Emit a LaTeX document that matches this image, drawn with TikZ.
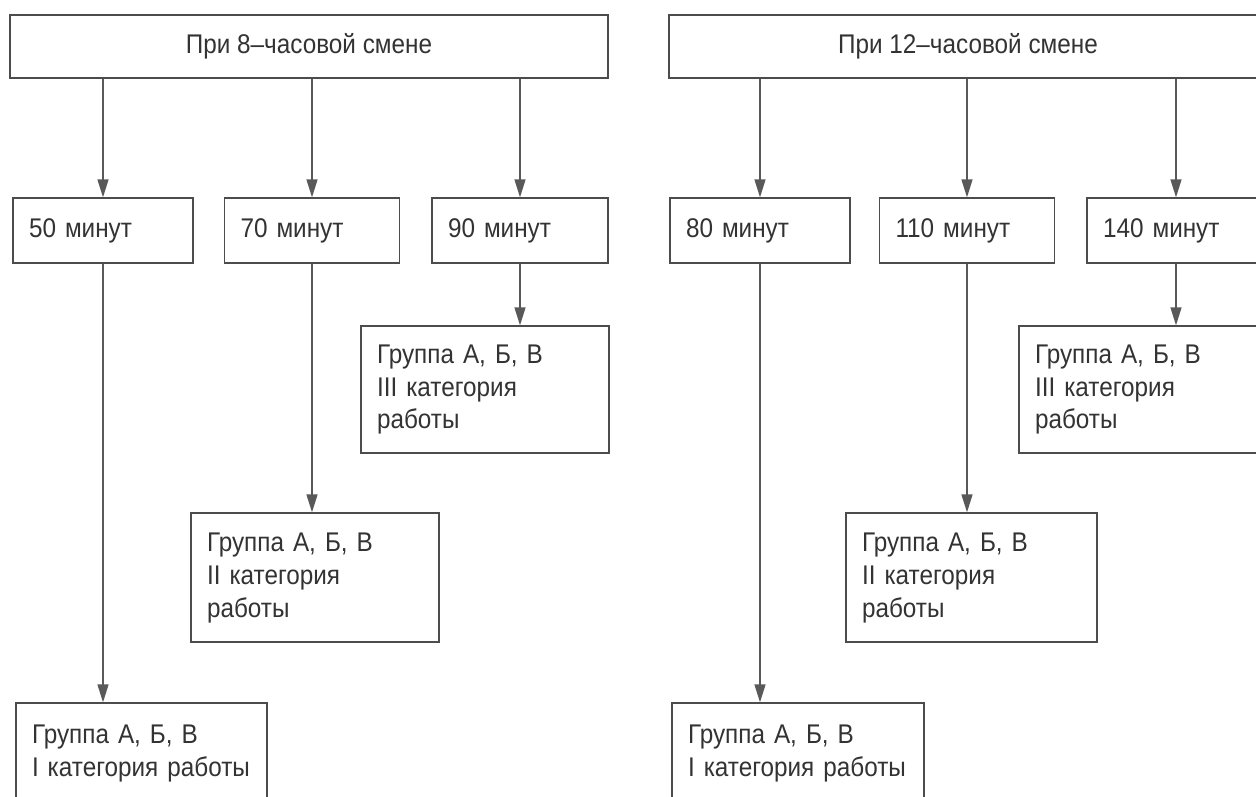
\documentclass[tikz,border=0pt]{standalone}
\usepackage{fontspec}
\setmainfont{Liberation Sans}[FakeStretch=0.9]
\usetikzlibrary{arrows.meta}

\begin{document}
\begin{tikzpicture}[x=1pt, y=-1pt,
  every node/.style = {shape=rectangle, draw=black!70, line width=1.4pt,
    fill=white, text=black!80, font=\fontsize{27}{33}\selectfont,
    inner xsep=16pt, inner ysep=0pt},
  headbox/.style = {minimum width=598pt, minimum height=63pt, align=center},
  timebox/.style = {minimum height=65pt, text width=#1-32pt, align=left},
  groupbox/.style = {text width=#1-32pt, align=left},
  arr/.style = {draw=black!65, line width=1.4pt,
    -{Triangle[length=18pt, width=11pt]}}]
  \useasboundingbox[fill=white] (0,0) rectangle (1256,796);
  % shifts
  \node[headbox] (eight) at (309,46.5) {При 8–часовой смене};
  \node[headbox] (twelve) at (968,46.5) {При 12–часовой смене};
  % breaks
  \node[timebox=180pt] (m50) at (103,230.5) {50 минут};
  \node[timebox=175pt] (m70) at (312,230.5) {70 минут};
  \node[timebox=176pt] (m90) at (520,230.5) {90 минут};
  \node[timebox=180pt] (m80) at (760,230.5) {80 минут};
  \node[timebox=175pt] (m110) at (967,230.5) {110 минут};
  \node[timebox=178pt] (m140) at (1176,230.5) {140 минут};
  % groups
  \node[groupbox=248pt, minimum height=127pt] (gIIIa) at (485,389.5)
    {Группа А, Б, В\\III категория\\работы};
  \node[groupbox=248pt, minimum height=129pt] (gIIa) at (315,577.5)
    {Группа А, Б, В\\II категория\\работы};
  \node[groupbox=251pt, minimum height=101pt] (gIa) at (141.5,753.5)
    {Группа А, Б, В\\I категория работы};
  \node[groupbox=248pt, minimum height=127pt] (gIIIb) at (1143,389.5)
    {Группа А, Б, В\\III категория\\работы};
  \node[groupbox=251pt, minimum height=129pt] (gIIb) at (971.5,577.5)
    {Группа А, Б, В\\II категория\\работы};
  \node[groupbox=252pt, minimum height=101pt] (gIb) at (798,753.5)
    {Группа А, Б, В\\I категория работы};
  % arrows
  \draw[arr] (eight.south -| m50) -- (m50);
  \draw[arr] (eight.south -| m70) -- (m70);
  \draw[arr] (eight.south -| m90) -- (m90);
  \draw[arr] (twelve.south -| m80) -- (m80);
  \draw[arr] (twelve.south -| m110) -- (m110);
  \draw[arr] (twelve.south -| m140) -- (m140);
  \draw[arr] (m50) -- (m50 |- gIa.north);
  \draw[arr] (m70) -- (m70 |- gIIa.north);
  \draw[arr] (m90) -- (m90 |- gIIIa.north);
  \draw[arr] (m80) -- (m80 |- gIb.north);
  \draw[arr] (m110) -- (m110 |- gIIb.north);
  \draw[arr] (m140) -- (m140 |- gIIIb.north);
\end{tikzpicture}
\end{document}
